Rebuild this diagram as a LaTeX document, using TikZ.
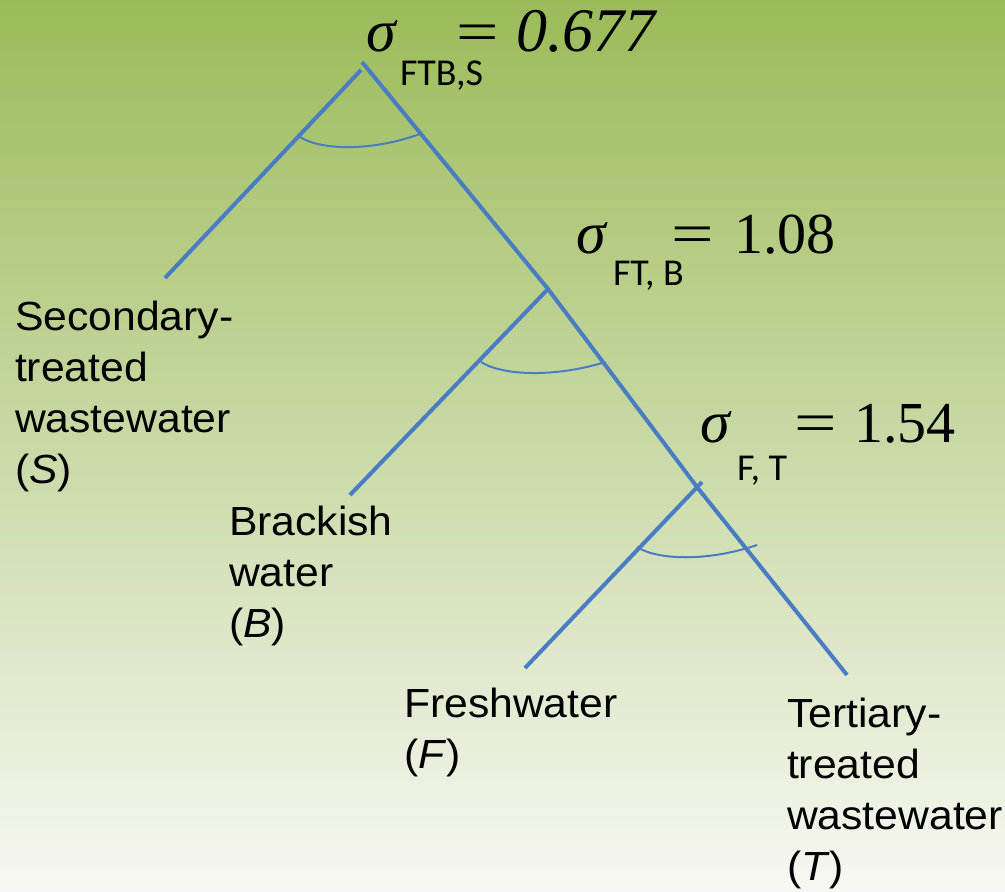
\documentclass[tikz,border=0pt]{standalone}
\usepackage{fontspec}
\setmainfont{Liberation Serif}
\newfontfamily\labfont[FakeStretch=1.05]{Liberation Sans}
\newfontfamily\subfont{Carlito}
\newfontfamily\eqfont{Liberation Serif}
\definecolor{bgtop}{RGB}{155,187,89}
\definecolor{bgbot}{RGB}{247,248,243}
\definecolor{treeblue}{RGB}{74,124,196}
\begin{document}
\begin{tikzpicture}[x=0.75pt,y=-0.75pt,
  branch/.style={draw=treeblue,line width=3pt},
  anglearc/.style={draw=treeblue,line width=1.5pt},
  lab/.style={anchor=base west,inner sep=0pt,outer sep=0pt,font=\labfont\fontsize{30.5}{38.25}\selectfont},
  sig/.style={anchor=base west,inner sep=0pt,outer sep=0pt,font=\eqfont\itshape\fontsize{45}{50}\selectfont},
  eqn/.style={anchor=base west,inner sep=0pt,outer sep=0pt,font=\eqfont\fontsize{43.5}{50}\selectfont},
  eqni/.style={anchor=base west,inner sep=0pt,outer sep=0pt,font=\eqfont\itshape\fontsize{46.5}{52}\selectfont},
  subs/.style={anchor=base west,inner sep=0pt,outer sep=0pt,font=\subfont\fontsize{28.5}{34}\selectfont}]
\shade[top color=bgtop,bottom color=bgbot] (0,0) rectangle (1005,891);
\useasboundingbox (0,0) rectangle (1005,891);

% junctions and ends
\coordinate (apex) at (362,62);
\coordinate (apexL) at (361,70);
\coordinate (j2) at (548,289);
\coordinate (j3) at (697,487);
\coordinate (j3t) at (702,482);
\coordinate (endS) at (165,278);
\coordinate (endB) at (350,495);
\coordinate (endF) at (525,668);
\coordinate (endT) at (847,675);

\draw[branch] (apex) -- (j2) -- (j3) -- (endT);
\draw[branch] (apexL) -- (endS);
\draw[branch] (j2) -- (endB);
\draw[branch] (j3t) -- (endF);

% angle arcs
\coordinate (a1s) at (300,137);
\coordinate (a1e) at (420,134);
\coordinate (a2s) at (481,362);
\coordinate (a2e) at (602,363);
\coordinate (a3s) at (637,547);
\coordinate (a3e) at (757,545);
\draw[anglearc] (a1s) .. controls (320,150) and (370,152) .. (a1e);
\draw[anglearc] (a2s) .. controls (501,375) and (551,378) .. (a2e);
\draw[anglearc] (a3s) .. controls (657,560) and (707,562) .. (a3e);

% labels
\node[lab] (labS) at (15,330) {\parbox[t]{250pt}{\raggedright Secondary-\\treated\\wastewater\\(\textit{S})}};
\node[lab] (labB) at (229,535) {\parbox[t]{200pt}{\raggedright Brackish\\water\\(\textit{B})}};
\node[lab] (labF) at (404,717) {\parbox[t]{200pt}{\raggedright Freshwater\\(\textit{F})}};
\node[lab] (labT) at (787,727) {\parbox[t]{200pt}{\raggedright Tertiary-\\treated\\wastewater\\(\textit{T})}};

% equations
\node[sig] (sig1) at (366,52) {σ};
\node[eqn] (eq1) at (456,52) {\scalebox{1.3}[1]{=}};
\node[eqni] (val1) at (516,52) {0.677};
\node[subs] (sub1) at (400,86) {FTB,S};

\node[sig] (sig2) at (576,253) {σ};
\node[eqn] (eq2) at (671,253) {\scalebox{1.3}[1]{=}};
\node[eqn] (val2) at (734,253) {1.08};
\node[subs] (sub2) at (613,285) {FT, B};

\node[sig] (sig3) at (700,442) {σ};
\node[eqn] (eq3) at (794,442) {\scalebox{1.3}[1]{=}};
\node[eqn] (val3) at (854,442) {1.54};
\node[subs] (sub3) at (737,480) {F, T};
\end{tikzpicture}
\end{document}
